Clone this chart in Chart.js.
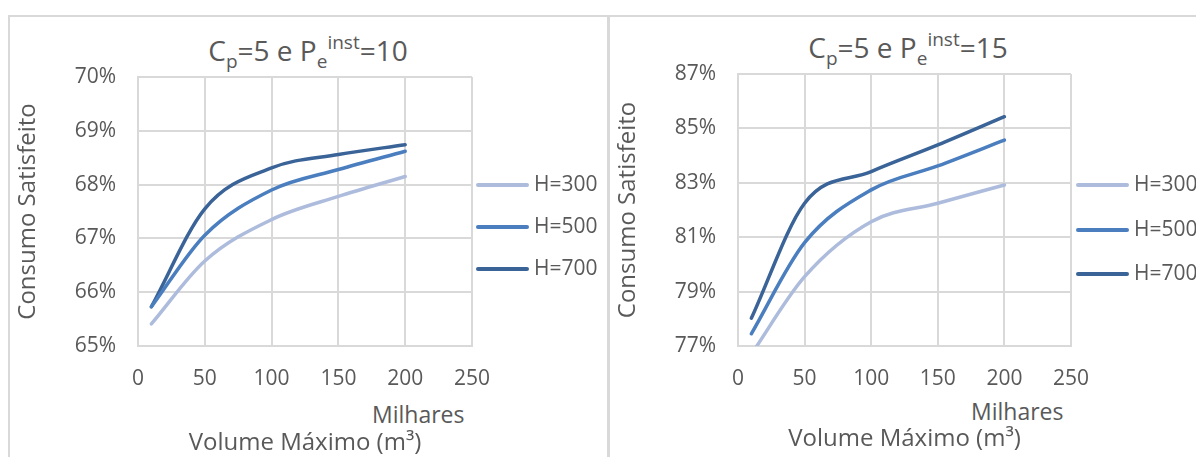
<!DOCTYPE html>
<html>
<head>
<meta charset="utf-8">
<script src="https://cdn.jsdelivr.net/npm/chart.js@4"></script>
<style>
body{margin:0;background:#fff;font-family:"Open Sans",sans-serif;color:#595959;}
#page{position:relative;width:1196px;height:457px;overflow:hidden;}
.box{position:absolute;border:2px solid #d9d9d9;border-bottom:none;}
.wrap{position:absolute;}
.title{position:absolute;font-size:28px;white-space:nowrap;line-height:1;text-align:center;}
.title sub,.title sup{font-size:19px;line-height:0;}
.title sub{vertical-align:-7px;}
.title sup{vertical-align:12px;}
.mil{position:absolute;font-size:23px;line-height:1;white-space:nowrap;}
.leg{position:absolute;font-size:21px;line-height:1;white-space:nowrap;}
.leg span{display:inline-block;width:53px;height:4px;border-radius:2px;vertical-align:middle;margin-right:5px;}
</style>
</head>
<body>
<div id="page">
  <div class="box" style="left:8px;top:15px;width:597px;height:460px;border-right-width:2px;"></div>
  <div class="box" style="left:608px;top:15px;width:600px;height:460px;border-right:none;"></div>

  <div class="title" style="left:158px;top:36px;width:300px;">C<sub>p</sub>=5 e P<sub>e</sub><sup>inst</sup>=10</div>
  <div class="title" style="left:758px;top:33px;width:300px;">C<sub>p</sub>=5 e P<sub>e</sub><sup>inst</sup>=15</div>

  <div class="mil" style="left:372px;top:403px;">Milhares</div>
  <div class="mil" style="left:971px;top:400px;">Milhares</div>

  <div class="wrap" style="left:10px;top:17px;width:596px;height:440px;"><canvas id="c1"></canvas></div>
  <div class="wrap" style="left:610px;top:17px;width:586px;height:440px;"><canvas id="c2"></canvas></div>

  <div id="leg1"></div>
  <div id="leg2"></div>
</div>
<script>
// x values (thousands of m3)
const volumes = [10, 50, 100, 150, 200];
const seriesNames = ['H=300', 'H=500', 'H=700'];
const colors = ['#adbcdc', '#4a7ebf', '#3a6398'];

// Cp=5, Pe inst=10
const left300 = [65.41, 66.58, 67.35, 67.78, 68.15];
const left500 = [65.73, 67.06, 67.90, 68.28, 68.62];
const left700 = [65.73, 67.55, 68.31, 68.56, 68.74];

// Cp=5, Pe inst=15
const right300 = [76.70, 79.55, 81.57, 82.25, 82.92];
const right500 = [77.45, 80.80, 82.74, 83.62, 84.57];
const right700 = [78.02, 82.25, 83.41, 84.39, 85.43];

const xTicks = [0, 50, 100, 150, 200, 250];
const leftYTicks = [65, 66, 67, 68, 69, 70];
const rightYTicks = [77, 79, 81, 83, 85, 87];

const grey = '#595959';
const gridColor = '#d9d9d9';

function makeDatasets(list){
  return list.map((vals, i) => ({
    label: seriesNames[i],
    data: vals.map((v, j) => ({x: volumes[j], y: v})),
    borderColor: colors[i],
    borderWidth: 3.5,
    borderCapStyle: 'round',
    pointRadius: 0,
    cubicInterpolationMode: 'monotone',
    fill: false
  }));
}

function makeChart(id, list, yTicks, padTop, padRight, xTitlePad){
  new Chart(document.getElementById(id), {
    type: 'line',
    data: {datasets: makeDatasets(list)},
    options: {
      responsive: true,
      maintainAspectRatio: false,
      animation: false,
      layout: {padding: {top: padTop, right: padRight, bottom: 0, left: 0}},
      plugins: {legend: {display: false}, tooltip: {enabled: false}},
      scales: {
        x: {
          type: 'linear',
          min: xTicks[0],
          max: xTicks[xTicks.length - 1],
          afterBuildTicks: s => { s.ticks = xTicks.map(v => ({value: v})); },
          afterFit: s => { s.height = 440 - 329; },
          grid: {color: gridColor, lineWidth: 2, drawTicks: false},
          border: {color: gridColor, width: 2},
          ticks: {color: grey, padding: 20, font: {family: 'Open Sans', size: 21}},
          title: {display: true, text: 'Volume Máximo (m³)', color: grey,
            font: {family: 'Open Sans', size: 24}, padding: {top: 0, bottom: xTitlePad}}
        },
        y: {
          min: yTicks[0],
          max: yTicks[yTicks.length - 1],
          afterBuildTicks: s => { s.ticks = yTicks.map(v => ({value: v})); },
          afterFit: s => { s.width = 128; },
          grid: {color: gridColor, lineWidth: 2, drawTicks: false},
          border: {color: gridColor, width: 2},
          ticks: {color: grey, padding: 22, font: {family: 'Open Sans', size: 21},
            callback: v => v + '%'},
          title: {display: true, text: 'Consumo Satisfeito', color: grey,
            font: {family: 'Open Sans', size: 24}, padding: {top: 4, bottom: 0}}
        }
      }
    }
  });
}

function makeLegend(id, left, tops){
  const el = document.getElementById(id);
  seriesNames.forEach((name, i) => {
    const d = document.createElement('div');
    d.className = 'leg';
    d.style.left = left + 'px';
    d.style.top = (tops[i] - 11) + 'px';
    d.innerHTML = '<span style="background:' + colors[i] + '"></span>' + name;
    el.appendChild(d);
  });
}

makeChart('c1', [left300, left500, left700], leftYTicks, 60, 596 - 462, -1);
makeChart('c2', [right300, right500, right700], rightYTicks, 57, 586 - 461, 3);

makeLegend('leg1', 476, [184, 226, 268]);
makeLegend('leg2', 1076, [184, 229, 273]);
</script>
</body>
</html>
